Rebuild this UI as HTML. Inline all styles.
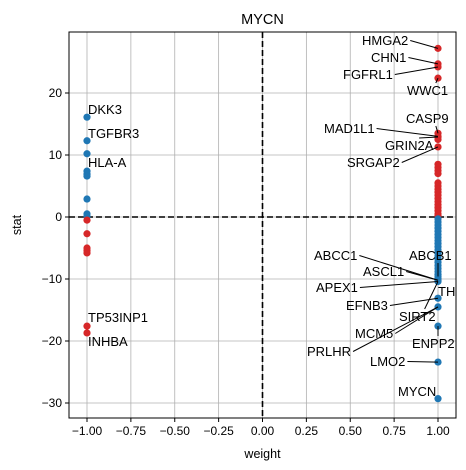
<!DOCTYPE html>
<html><head><meta charset="utf-8"><style>body{margin:0;background:#fff}svg{display:block;font-family:"Liberation Sans","DejaVu Sans",sans-serif}</style></head>
<body>
<svg id="c" width="466" height="470"></svg>
<script>
const leftStats=[16.1,12.3,10.2,7.4,6.9,6.6,2.9,0.5,0.1,-0.5,-2.7,-5.0,-5.4,-5.8,-17.6,-18.7];
const rightStats=[27.2,24.7,24.2,22.4,13.5,13.0,12.9,12.5,11.3,8.5,8.0,7.5,7.0,5.5,5.0,4.5,4.0,3.5,3.0,2.5,2.0,1.5,1.0,0.5,0.2,
-0.3,-0.8,-1.3,-1.8,-2.3,-2.8,-3.3,-3.8,-4.3,-4.8,-5.3,-5.8,-6.3,-6.8,-7.3,-7.8,-8.3,-8.8,-9.3,-9.6,-9.9,-10.2,-10.4,-13.1,-14.5,-17.6,-23.4,-29.3];
const xTicks=[-1,-0.75,-0.5,-0.25,0,0.25,0.5,0.75,1];
const xTickLabels=["−1.00","−0.75","−0.50","−0.25","0.00","0.25","0.50","0.75","1.00"];
const yTicks=[-30,-20,-10,0,10,20];
const yTickLabels=["−30","−20","−10","0","10","20"];
// labels: [text, weight, stat, textX, textY, drawLine]
const labels=[["HMGA2",1,27.2,362,45,1],["CHN1",1,24.7,371,62,1],["FGFRL1",1,24.2,343,79,1],["WWC1",1,22.4,407,95,1],
["CASP9",1,13.5,406,123,1],["MAD1L1",1,13.0,324,133,1],["GRIN2A",1,12.9,385,150,1],["SRGAP2",1,11.3,347,167,1],
["ABCB1",1,-9.6,409,260,1],["ABCC1",1,-10.2,314,260,1],["ASCL1",1,-10.2,363,276,1],["APEX1",1,-10.4,316,292,1],
["TH",1,-10.4,438,296,0],["EFNB3",1,-13.1,346,310,1],["SIRT2",1,-10.4,399,321,1],["MCM5",1,-14.5,355,338,1],
["PRLHR",1,-14.5,307,356,1],["ENPP2",1,-17.6,412,348,1],["LMO2",1,-23.4,370,366,1],["MYCN",1,-29.3,398,396,0],
["DKK3",-1,16.1,88,114,0],["TGFBR3",-1,12.3,88,138,0],["HLA-A",-1,10.2,88,167,0],["TP53INP1",-1,-17.6,88,322,0],["INHBA",-1,-18.7,88,346,0]];
const L=69,R=456,T=32,B=418;
const X=v=>262.5+v*175.5, Y=v=>217-v*6.2;
const svg=document.getElementById('c'),NS='http://www.w3.org/2000/svg';
function mk(t,a,p){const e=document.createElementNS(NS,t);for(const k in a)e.setAttribute(k,a[k]);(p||svg).appendChild(e);return e;}
xTicks.forEach((v,i)=>{const g=mk('line',{x1:X(v),x2:X(v),y1:T,y2:B,stroke:'#b0b0b0','stroke-width':0.8});


const tk=mk('line',{x1:X(v),x2:X(v),y1:B,y2:B+4,stroke:'#000'});


const t=mk('text',{x:X(v),y:B+17,'text-anchor':'middle','font-size':12});t.textContent=xTickLabels[i];

});
yTicks.forEach((v,i)=>{const g=mk('line',{x1:L,x2:R,y1:Y(v),y2:Y(v),stroke:'#b0b0b0','stroke-width':0.8});


const tk=mk('line',{x1:L-4,x2:L,y1:Y(v),y2:Y(v),stroke:'#000'});


const t=mk('text',{x:L-7,y:Y(v)+4,'text-anchor':'end','font-size':12});t.textContent=yTickLabels[i];

});
const h=mk('line',{x1:L,x2:R,y1:Y(0),y2:Y(0),stroke:'#000','stroke-width':1.6,'stroke-dasharray':'6,3'});


const vl=mk('line',{x1:X(0),x2:X(0),y1:T,y2:B,stroke:'#000','stroke-width':1.6,'stroke-dasharray':'6,3'});


function pts(arr,w){arr.forEach(s=>{const c=mk('circle',{cx:X(w),cy:Y(s),r:3.6,fill:(w*s>0)?'#d62728':'#1f77b4'});

});}
pts(leftStats,-1);pts(rightStats,1);
labels.forEach(l=>{const t=mk('text',{x:l[3],y:l[4],'font-size':13});t.textContent=l[0];


if(l[5]){const bb=t.getBBox();const px=X(l[1]),py=Y(l[2]);
let sx=bb.x+bb.width+2,sy=bb.y+bb.height/2;
if(sx>px-4){sx=Math.min(bb.x+bb.width*0.7,px);sy=(py<bb.y)?bb.y:bb.y+bb.height;}
const ln=mk('line',{x1:sx,y1:sy,x2:px,y2:py,stroke:'#000','stroke-width':1});

}});
const fr=mk('rect',{x:L,y:T,width:R-L,height:B-T,fill:'none',stroke:'#000','stroke-width':1});


const ti=mk('text',{x:262.5,y:24,'text-anchor':'middle','font-size':14.5});ti.textContent='MYCN';


const xl=mk('text',{x:262.5,y:458,'text-anchor':'middle','font-size':12.5});xl.textContent='weight';


const yl=mk('text',{x:0,y:0,'text-anchor':'middle','font-size':12.5,transform:'translate(21,225) rotate(-90)'});yl.textContent='stat';


</script>
</body></html>
